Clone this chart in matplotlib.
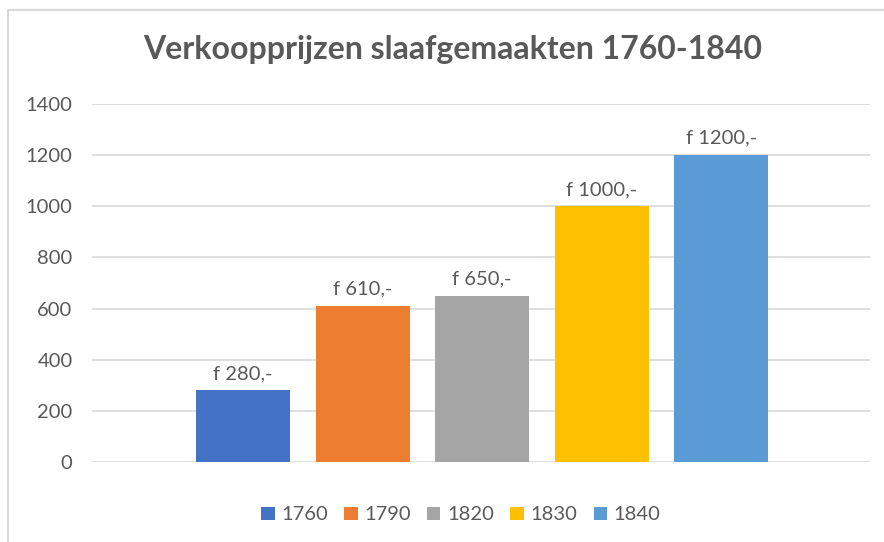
import matplotlib.pyplot as plt
from matplotlib.patches import Rectangle

years = ["1760", "1790", "1820", "1830", "1840"]
prices = [280, 610, 650, 1000, 1200]
labels = ["f 280,-", "f 610,-", "f 650,-", "f 1000,-", "f 1200,-"]
colors = ["#4472C4", "#ED7D31", "#A5A5A5", "#FFC000", "#5B9BD5"]
yticks = [0, 200, 400, 600, 800, 1000, 1200, 1400]

plt.rcParams['font.family'] = ['Lato', 'DejaVu Sans']
txt = "#595959"

W, H = 884, 542
fig = plt.figure(figsize=(W / 100, H / 100), dpi=100)
ax = fig.add_axes([92 / W, 1 - 462 / H, (870 - 92) / W, (462 - 104) / H])

# outer chart border (cropped on right and bottom like the screenshot)
fig.patches.append(Rectangle((8 / W, -0.1), 2, 1 - 10 / H + 0.1, transform=fig.transFigure,
                             fill=False, edgecolor="#D9D9D9", linewidth=1.5))

for i in range(len(years)):
    ax.bar(i, prices[i], width=0.786, color=colors[i], label=years[i], zorder=3)
    ax.annotate(labels[i], (i, prices[i]), xytext=(0, 6), textcoords="offset points",
                ha="center", va="bottom", fontsize=14.5, color=txt)

ax.set_xlim(-1.263, 5.243)
ax.set_ylim(0, 1400)
ax.set_yticks(yticks)
ax.set_xticks([])
ax.grid(axis="y", color="#D9D9D9", linewidth=1.2, zorder=0)
for s in ["top", "right", "left", "bottom"]:
    ax.spines[s].set_visible(False)
ax.tick_params(axis="y", length=0, pad=14, labelsize=14.5, labelcolor=txt)

fig.text(453 / W, 1 - 50 / H, "Verkoopprijzen slaafgemaakten 1760-1840", ha="center", va="center",
         fontsize=23, fontweight="bold", color=txt)

fig.legend(loc="center", bbox_to_anchor=(461 / W, 1 - 515 / H), ncol=5, frameon=False,
           fontsize=14.5, labelcolor=txt, handlelength=0.65, handleheight=0.65,
           handletextpad=0.35, columnspacing=0.8)

fig.savefig("out.png", dpi=100)
